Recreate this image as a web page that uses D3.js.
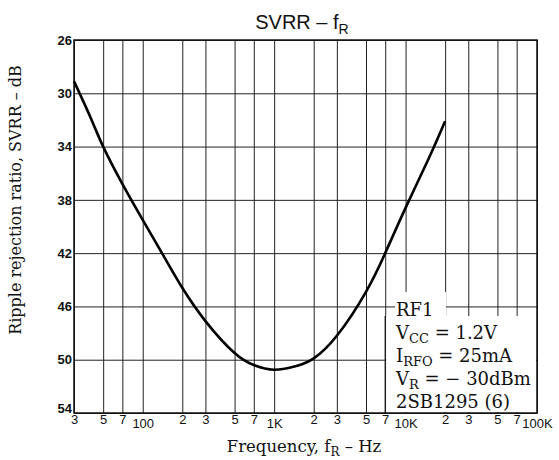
<!DOCTYPE html>
<html>
<head>
<meta charset="utf-8">
<script src="https://cdn.jsdelivr.net/npm/d3@7"></script>
<style>
  body { margin: 0; background: #fff; }
  svg text { fill: #111; }
</style>
</head>
<body>
<div id="chart"></div>
<script>
// frequency (Hz) and SVRR (dB)
const freqs = [30, 40, 50, 70, 100, 150, 200, 300, 500, 700, 1000, 1500, 2000, 3000, 5000, 7000, 10000, 15000, 20000];
const svrr  = [29.1, 31.8, 34.0, 36.8, 39.5, 42.5, 44.6, 47.1, 49.5, 50.4, 50.75, 50.45, 49.9, 48.2, 44.9, 42.0, 38.6, 34.9, 32.1];

const gridFreqs = [30, 50, 70, 100, 200, 300, 500, 700, 1000, 2000, 3000, 5000, 7000, 10000, 20000, 30000, 50000, 70000, 100000];
const freqLabels = ["3", "5", "7", "100", "2", "3", "5", "7", "1K", "2", "3", "5", "7", "10K", "2", "3", "5", "7", "100K"];
const dbTicks = [26, 30, 34, 38, 42, 46, 50, 54];
const notes = ["RF1", "V|CC| = 1.2V", "I|RFO| = 25mA", "V|R| = \u2212 30dBm", "2SB1295 (6)"];

const width = 559, height = 460;
const margin = {top: 40, right: 22, bottom: 47, left: 74};

const svg = d3.select('#chart')
  .append('svg')
  .attr('width', width)
  .attr('height', height);

const x = d3.scaleLog()
  .domain([30, 100000])
  .range([margin.left, width - margin.right]);

const y = d3.scaleLinear()
  .domain([26, 54])
  .range([margin.top, height - margin.bottom]);

const plotH = y(54) - y(26);
const plotW = x(100000) - x(30);

// vertical grid + frequency labels
const xAxis = svg.append("g")
  .attr("transform", `translate(0,${y(54)})`)
  .call(d3.axisBottom(x)
    .tickValues(gridFreqs)
    .tickSize(-plotH)
    .tickSizeOuter(0)
    .tickFormat((d, i) => freqLabels[i]));
xAxis.select(".domain").remove();
xAxis.selectAll(".tick line").attr("stroke", "#222").attr("stroke-width", 1);
xAxis.selectAll(".tick text")
  .attr("y", (d, i) => freqLabels[i].length > 1 ? 5 : 1)
  .attr("dy", 0)
  .attr("dominant-baseline", "hanging")
  .style("font-family", "'Liberation Sans', Arial, sans-serif")
  .style("font-size", "13px");

// horizontal grid + dB labels
const yAxis = svg.append("g")
  .attr("transform", `translate(${x(30)},0)`)
  .call(d3.axisLeft(y)
    .tickValues(dbTicks)
    .tickSize(-plotW)
    .tickSizeOuter(0));
yAxis.select(".domain").remove();
yAxis.selectAll(".tick line").attr("stroke", "#222").attr("stroke-width", 1);
yAxis.selectAll(".tick text")
  .attr("x", -2)
  .attr("dy", (d, i) => i === dbTicks.length - 1 ? "-0.05em" : "0.32em")
  .style("font-family", "'Liberation Sans', Arial, sans-serif")
  .style("font-size", "13px")
  .style("font-weight", "bold");

// frame
svg.append("rect")
  .attr("x", x(30))
  .attr("y", y(26))
  .attr("width", plotW)
  .attr("height", plotH)
  .attr("fill", "none")
  .attr("stroke", "#111")
  .attr("stroke-width", 1.5);

// the curve
const line = d3.line()
  .x((d, i) => x(freqs[i]))
  .y(d => y(d))
  .curve(d3.curveNatural);

svg.append("path")
  .datum(svrr)
  .attr("d", line)
  .attr("fill", "none")
  .attr("stroke", "#000")
  .attr("stroke-width", 2.6);

// condition box
svg.append("rect")
  .attr("x", x(7000) + 1)
  .attr("y", 316)
  .attr("width", x(100000) - x(7000) - 2)
  .attr("height", y(54) - 316 - 1)
  .attr("fill", "#fff");
svg.append("rect")
  .attr("x", 395)
  .attr("y", 292)
  .attr("width", 51)
  .attr("height", 26)
  .attr("fill", "#fff");
svg.append("line")
  .attr("x1", x(7000)).attr("x2", x(7000))
  .attr("y1", 316).attr("y2", y(54))
  .attr("stroke", "#111").attr("stroke-width", 1.2);

const noteText = svg.append("g")
  .style("font-family", "'DejaVu Serif', serif")
  .style("font-size", "18px");

notes.forEach((s, i) => {
  const t = noteText.append("text")
    .attr("x", 396)
    .attr("y", 316 + i * 23);
  const parts = s.split("|");
  t.append("tspan").text(parts[0]);
  if (parts.length > 1) {
    t.append("tspan").attr("dy", 4).style("font-size", "13px").text(parts[1]);
    t.append("tspan").attr("dy", -4).text(parts[2]);
  }
});

// title
const title = svg.append("text")
  .attr("x", 302)
  .attr("y", 29)
  .attr("text-anchor", "middle")
  .style("font-family", "'Liberation Sans', Arial, sans-serif")
  .style("font-size", "20px");
title.append("tspan").text("SVRR \u2013 f");
title.append("tspan").attr("dy", 5).style("font-size", "14px").text("R");

// x axis title
const xt = svg.append("text")
  .attr("x", 304)
  .attr("y", 452)
  .attr("text-anchor", "middle")
  .style("font-family", "'DejaVu Serif', serif")
  .style("font-size", "16.5px");
xt.append("tspan").text("Frequency, f");
xt.append("tspan").attr("dy", 4).style("font-size", "12px").text("R");
xt.append("tspan").attr("dy", -4).text(" \u2013 Hz");

// y axis title
svg.append("text")
  .attr("transform", "translate(21,200) rotate(-90)")
  .attr("text-anchor", "middle")
  .style("font-family", "'DejaVu Serif', serif")
  .style("font-size", "16px")
  .text("Ripple rejection ratio, SVRR \u2013 dB");
</script>
</body>
</html>
